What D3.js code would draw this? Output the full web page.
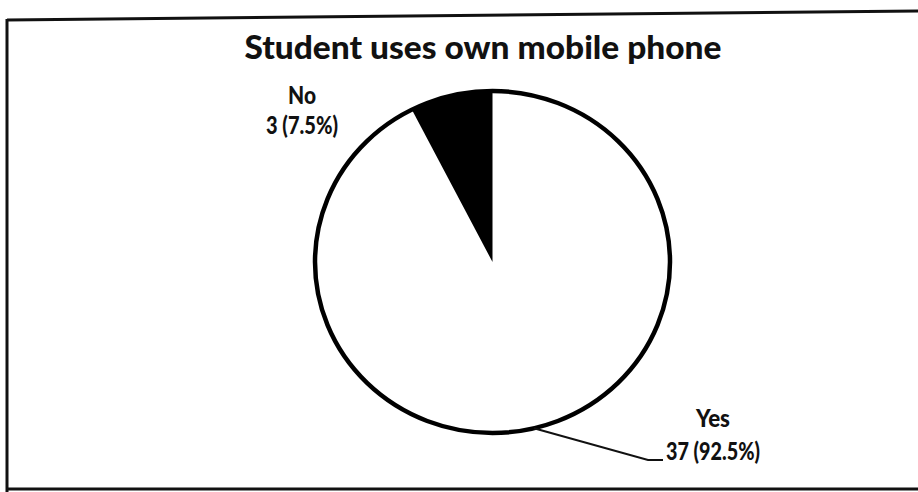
<!DOCTYPE html>
<html>
<head>
<meta charset="utf-8">
<script src="https://cdn.jsdelivr.net/npm/d3@7"></script>
<style>
  html, body { margin: 0; padding: 0; background: #fff; }
  svg { display: block; }
  text { font-family: Lato, "Open Sans", sans-serif; font-weight: 900; fill: #111; }
</style>
</head>
<body>
<svg id="chart" width="918" height="492"></svg>
<script>
// Survey answers and counts
const categories = ["Yes", "No"];
const counts = [37, 3];
const percentLabels = ["92.5%", "7.5%"];
const chartTitle = "Student uses own mobile phone";

const W = 918, H = 492;
const svg = d3.select("#chart");

// Scanned frame around the chart
const frame = svg.append("g").attr("stroke", "#111").attr("fill", "none");
frame.append("line").attr("x1", 7).attr("y1", 20).attr("x2", 918).attr("y2", 11).attr("stroke-width", 3);
frame.append("line").attr("x1", 7).attr("y1", 19).attr("x2", 7).attr("y2", 492).attr("stroke-width", 3);
frame.append("line").attr("x1", 6).attr("y1", 489).attr("x2", 918).attr("y2", 489).attr("stroke-width", 3);

// Title
svg.append("text")
  .attr("x", 483).attr("y", 59)
  .attr("text-anchor", "middle")
  .attr("font-size", 32)
  .attr("textLength", 477)
  .attr("lengthAdjust", "spacingAndGlyphs")
  .text(chartTitle);

// Pie geometry (slightly wider than tall)
const cx = 492.5, cy = 262, rx = 177.5, ry = 171;
const yScale = ry / rx;

const data = categories.map((c, i) => ({ category: c, count: counts[i], pct: percentLabels[i] }));
const pie = d3.pie().sort(null).value(d => d.count);
const arcs = pie(data);
const arc = d3.arc().innerRadius(0).outerRadius(rx);
const fills = d3.scaleOrdinal().domain(categories).range(["#ffffff", "#000000"]);

const pieG = svg.append("g").attr("transform", `translate(${cx},${cy}) scale(1,${yScale})`);
pieG.selectAll("path.slice")
  .data(arcs)
  .join("path")
  .attr("class", "slice")
  .attr("d", arc)
  .attr("fill", d => fills(d.data.category))
  .attr("stroke", "none");
// outline of the whole pie
pieG.append("circle")
  .attr("r", rx)
  .attr("fill", "none")
  .attr("stroke", "#000")
  .attr("stroke-width", 4.5)
  .attr("vector-effect", "non-scaling-stroke");

// Leader line from the middle of the "Yes" slice to its label
const yes = arcs[0];
const mid = (yes.startAngle + yes.endAngle) / 2;
const p0 = [cx + rx * Math.sin(mid), cy - ry * Math.cos(mid)];
svg.append("polyline")
  .attr("points", [p0, [648, 460], [663, 460]].map(p => p.join(",")).join(" "))
  .attr("fill", "none")
  .attr("stroke", "#111")
  .attr("stroke-width", 2);

// Data labels: category on one line, count and percent below
function label(d, x, y1, y2, w1, w2) {
  svg.append("text").attr("x", x).attr("y", y1).attr("text-anchor", "middle")
    .attr("font-size", 24).attr("textLength", w1).attr("lengthAdjust", "spacingAndGlyphs")
    .text(d.category);
  svg.append("text").attr("x", x).attr("y", y2).attr("text-anchor", "middle")
    .attr("font-size", 24).attr("textLength", w2).attr("lengthAdjust", "spacingAndGlyphs")
    .text(`${d.count} (${d.pct})`);
}
label(data[0], 713, 427, 460, 34, 94);
label(data[1], 302, 104, 134, 28, 72);
</script>
</body>
</html>
